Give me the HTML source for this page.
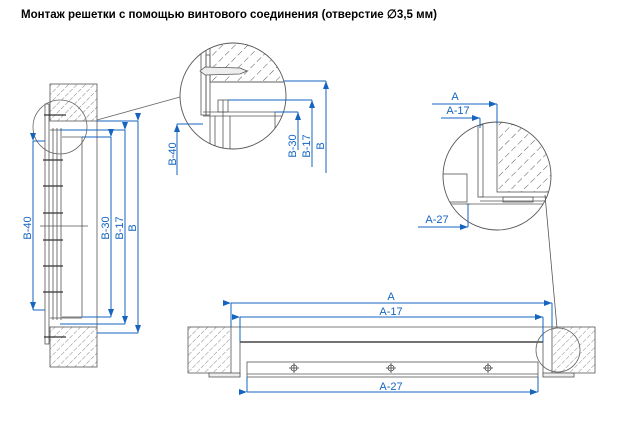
<!DOCTYPE html>
<html><head><meta charset="utf-8"><style>
html,body{margin:0;padding:0;background:#fff;}
svg{display:block;}
text{font-family:"Liberation Sans",Arial,sans-serif;}
</style></head><body>
<svg width="624" height="444" viewBox="0 0 624 444" xmlns="http://www.w3.org/2000/svg">
<defs>
<pattern id="h" width="6" height="6" patternUnits="userSpaceOnUse" patternTransform="rotate(45)">
<line x1="0" y1="0" x2="0" y2="6" stroke="#555" stroke-width="0.7" stroke-dasharray="4 1.5"/>
</pattern>
<pattern id="h2" width="9" height="9" patternUnits="userSpaceOnUse" patternTransform="rotate(45)">
<line x1="0" y1="0" x2="0" y2="9" stroke="#444" stroke-width="0.9" stroke-dasharray="6 3"/>
</pattern>
<marker id="a" markerWidth="8" markerHeight="6" refX="8" refY="3" orient="auto" markerUnits="userSpaceOnUse">
<path d="M0,0 L8,3 L0,6 z" fill="#1565c0"/></marker>
<clipPath id="c1"><circle cx="233" cy="96" r="53"/></clipPath>
<clipPath id="c2"><circle cx="497" cy="176" r="54"/></clipPath>
</defs>

<text x="21" y="18" font-size="12" font-weight="bold" textLength="416" lengthAdjust="spacingAndGlyphs">Монтаж решетки с помощью винтового соединения (отверстие ∅3,5 мм)</text>

<!-- LEFT VIEW -->
<g stroke="#555" stroke-width="0.8" fill="none">
<rect x="50" y="84" width="47" height="37" fill="url(#h)"/>
<rect x="50" y="327" width="47" height="40" fill="url(#h)"/>
<line x1="97" y1="121" x2="97" y2="327"/>
<rect x="45" y="104" width="4" height="240" fill="#fff"/>
<line x1="50" y1="130" x2="82" y2="130"/>
<line x1="50" y1="318" x2="82" y2="318"/>
<line x1="53" y1="128" x2="53" y2="320"/>
<line x1="57" y1="128" x2="57" y2="320"/>
<line x1="61" y1="128" x2="61" y2="320"/>
<line x1="82" y1="137" x2="82" y2="317"/>
<line x1="62" y1="137" x2="82" y2="137"/>
<line x1="62" y1="317" x2="82" y2="317"/>
<line x1="40" y1="226" x2="88" y2="226"/>
<g stroke="#333" stroke-width="1.2">
<line x1="44" y1="115" x2="66" y2="115"/>
<line x1="44" y1="337" x2="66" y2="337"/>
<line x1="43" y1="160" x2="63" y2="160"/>
<line x1="43" y1="186" x2="63" y2="186"/>
<line x1="43" y1="213" x2="63" y2="213"/>
<line x1="43" y1="240" x2="63" y2="240"/>
<line x1="43" y1="266" x2="63" y2="266"/>
<line x1="43" y1="292" x2="63" y2="292"/>
</g>
<circle cx="60" cy="127" r="27" stroke="#666"/>
<line x1="97" y1="120" x2="180" y2="97" stroke="#666"/>
</g>
<g stroke="#1565c0" stroke-width="1" fill="none">
<polyline points="97,121 138,121"/><polyline points="97,333 138,333"/>
<line x1="138" y1="121" x2="138" y2="333" marker-start="url(#a)" marker-end="url(#a)"/>
<polyline points="60,130 125,130"/><polyline points="60,324 125,324"/>
<line x1="125" y1="130" x2="125" y2="324" marker-start="url(#a)" marker-end="url(#a)"/>
<polyline points="82,137 111,137"/><polyline points="82,317 111,317"/>
<line x1="111" y1="137" x2="111" y2="317" marker-start="url(#a)" marker-end="url(#a)"/>
<polyline points="45,141 33,141"/><polyline points="45,310 33,310"/>
<line x1="33" y1="141" x2="33" y2="310" marker-start="url(#a)" marker-end="url(#a)"/>
</g>
<g fill="#1565c0" font-size="11">
<text transform="translate(31,228) rotate(-90)" text-anchor="middle">B-40</text>
<text transform="translate(109,228) rotate(-90)" text-anchor="middle">B-30</text>
<text transform="translate(123,228) rotate(-90)" text-anchor="middle">B-17</text>
<text transform="translate(136,228) rotate(-90)" text-anchor="middle">B</text>
</g>

<!-- BIG CIRCLE TOP -->
<g clip-path="url(#c1)" stroke="#555" stroke-width="0.8" fill="none">
<rect x="210" y="30" width="90" height="52" fill="url(#h2)"/>
<line x1="210" y1="82" x2="300" y2="82"/>
<rect x="201" y="40" width="5" height="75" fill="#fff"/>
<rect x="206" y="55" width="4" height="60"/>
<path d="M200,71 L205,67 L240,68 L247,71 L240,74 L205,75 Z" fill="#eee"/>
<line x1="203" y1="112" x2="290" y2="112"/>
<line x1="203" y1="116" x2="290" y2="116"/>
<rect x="218" y="100" width="10" height="12"/>
<line x1="223" y1="100" x2="223" y2="160"/>
<line x1="210" y1="116" x2="210" y2="160"/>
<line x1="215" y1="116" x2="215" y2="160"/>
<line x1="230" y1="116" x2="230" y2="160"/>
<line x1="275" y1="112" x2="275" y2="160"/>
</g>
<circle cx="233" cy="96" r="53" stroke="#555" stroke-width="0.9" fill="none"/>
<g stroke="#1565c0" stroke-width="1" fill="none">
<polyline points="284,81 326,81"/>
<line x1="326" y1="173" x2="326" y2="81" marker-end="url(#a)"/>
<polyline points="228,100 312,100"/>
<line x1="312" y1="167" x2="312" y2="100" marker-end="url(#a)"/>
<polyline points="275,112 298,112"/>
<line x1="298" y1="150" x2="298" y2="112" marker-end="url(#a)"/>
<polyline points="203,124 177,124"/>
<line x1="177" y1="175" x2="177" y2="124" marker-end="url(#a)"/>
</g>
<g fill="#1565c0" font-size="11">
<text transform="translate(296,146) rotate(-90)" text-anchor="middle">B-30</text>
<text transform="translate(310,146) rotate(-90)" text-anchor="middle">B-17</text>
<text transform="translate(324,146) rotate(-90)" text-anchor="middle">B</text>
<text transform="translate(176,154) rotate(-90)" text-anchor="middle">B-40</text>
</g>

<!-- RIGHT CIRCLE -->
<g clip-path="url(#c2)" stroke="#555" stroke-width="0.8" fill="none">
<rect x="497" y="115" width="60" height="77" fill="url(#h2)"/>
<rect x="478" y="125" width="5" height="72"/>
<line x1="480" y1="197" x2="550" y2="197"/>
<line x1="480" y1="201" x2="550" y2="201"/>
<path d="M466,204 L545,204 L548,196" />
<rect x="503" y="197" width="30" height="5"/>
<rect x="440" y="174" width="27" height="28"/>
<line x1="440" y1="204" x2="470" y2="204"/>
</g>
<circle cx="497" cy="176" r="54" stroke="#555" stroke-width="0.9" fill="none"/>
<line x1="545" y1="195" x2="557" y2="328" stroke="#555" stroke-width="0.8"/>
<g stroke="#1565c0" stroke-width="1" fill="none">
<line x1="432" y1="104" x2="497" y2="104" marker-end="url(#a)"/>
<line x1="497" y1="104" x2="497" y2="124"/>
<line x1="441" y1="118" x2="480" y2="118" marker-end="url(#a)"/>
<line x1="480" y1="118" x2="480" y2="128"/>
<line x1="418" y1="227" x2="468" y2="227" marker-end="url(#a)"/>
<line x1="468" y1="227" x2="468" y2="204"/>
</g>
<g fill="#1565c0" font-size="11">
<text x="455" y="100" text-anchor="middle">A</text>
<text x="458" y="114" text-anchor="middle">A-17</text>
<text x="437" y="223" text-anchor="middle">A-27</text>
</g>

<!-- BOTTOM VIEW -->
<g stroke="#555" stroke-width="0.8" fill="none">
<rect x="188" y="327" width="43" height="46" fill="url(#h)"/>
<rect x="552" y="327" width="43" height="46" fill="url(#h)"/>
<line x1="231" y1="327" x2="552" y2="327"/>
<line x1="240" y1="342" x2="543" y2="342" stroke="#222" stroke-width="1.2"/>
<line x1="240" y1="342" x2="240" y2="377"/>
<line x1="543" y1="342" x2="543" y2="377"/>
<rect x="247" y="362" width="291" height="15"/>
<line x1="247" y1="374" x2="538" y2="374"/>
<rect x="209" y="373" width="31" height="4" fill="#eee"/>
<rect x="543" y="373" width="31" height="4" fill="#eee"/>
<g stroke="#444">
<circle cx="294" cy="368" r="3"/><line x1="289" y1="368" x2="299" y2="368"/><line x1="294" y1="363" x2="294" y2="373"/>
<circle cx="391" cy="368" r="3"/><line x1="386" y1="368" x2="396" y2="368"/><line x1="391" y1="363" x2="391" y2="373"/>
<circle cx="488" cy="368" r="3"/><line x1="483" y1="368" x2="493" y2="368"/><line x1="488" y1="363" x2="488" y2="373"/>
</g>
<circle cx="558" cy="350" r="22" stroke="#666"/>
</g>
<g stroke="#1565c0" stroke-width="1" fill="none">
<line x1="231" y1="303" x2="552" y2="303" marker-start="url(#a)" marker-end="url(#a)"/>
<line x1="231" y1="303" x2="231" y2="327"/><line x1="552" y1="303" x2="552" y2="327"/>
<line x1="240" y1="317" x2="543" y2="317" marker-start="url(#a)" marker-end="url(#a)"/>
<line x1="240" y1="317" x2="240" y2="342"/><line x1="543" y1="317" x2="543" y2="342"/>
<line x1="247" y1="392" x2="538" y2="392" marker-start="url(#a)" marker-end="url(#a)"/>
<line x1="247" y1="377" x2="247" y2="392"/><line x1="538" y1="377" x2="538" y2="392"/>
</g>
<g fill="#1565c0" font-size="11">
<text x="391" y="300" text-anchor="middle">A</text>
<text x="391" y="315" text-anchor="middle">A-17</text>
<text x="391" y="390" text-anchor="middle">A-27</text>
</g>
</svg>
</body></html>
